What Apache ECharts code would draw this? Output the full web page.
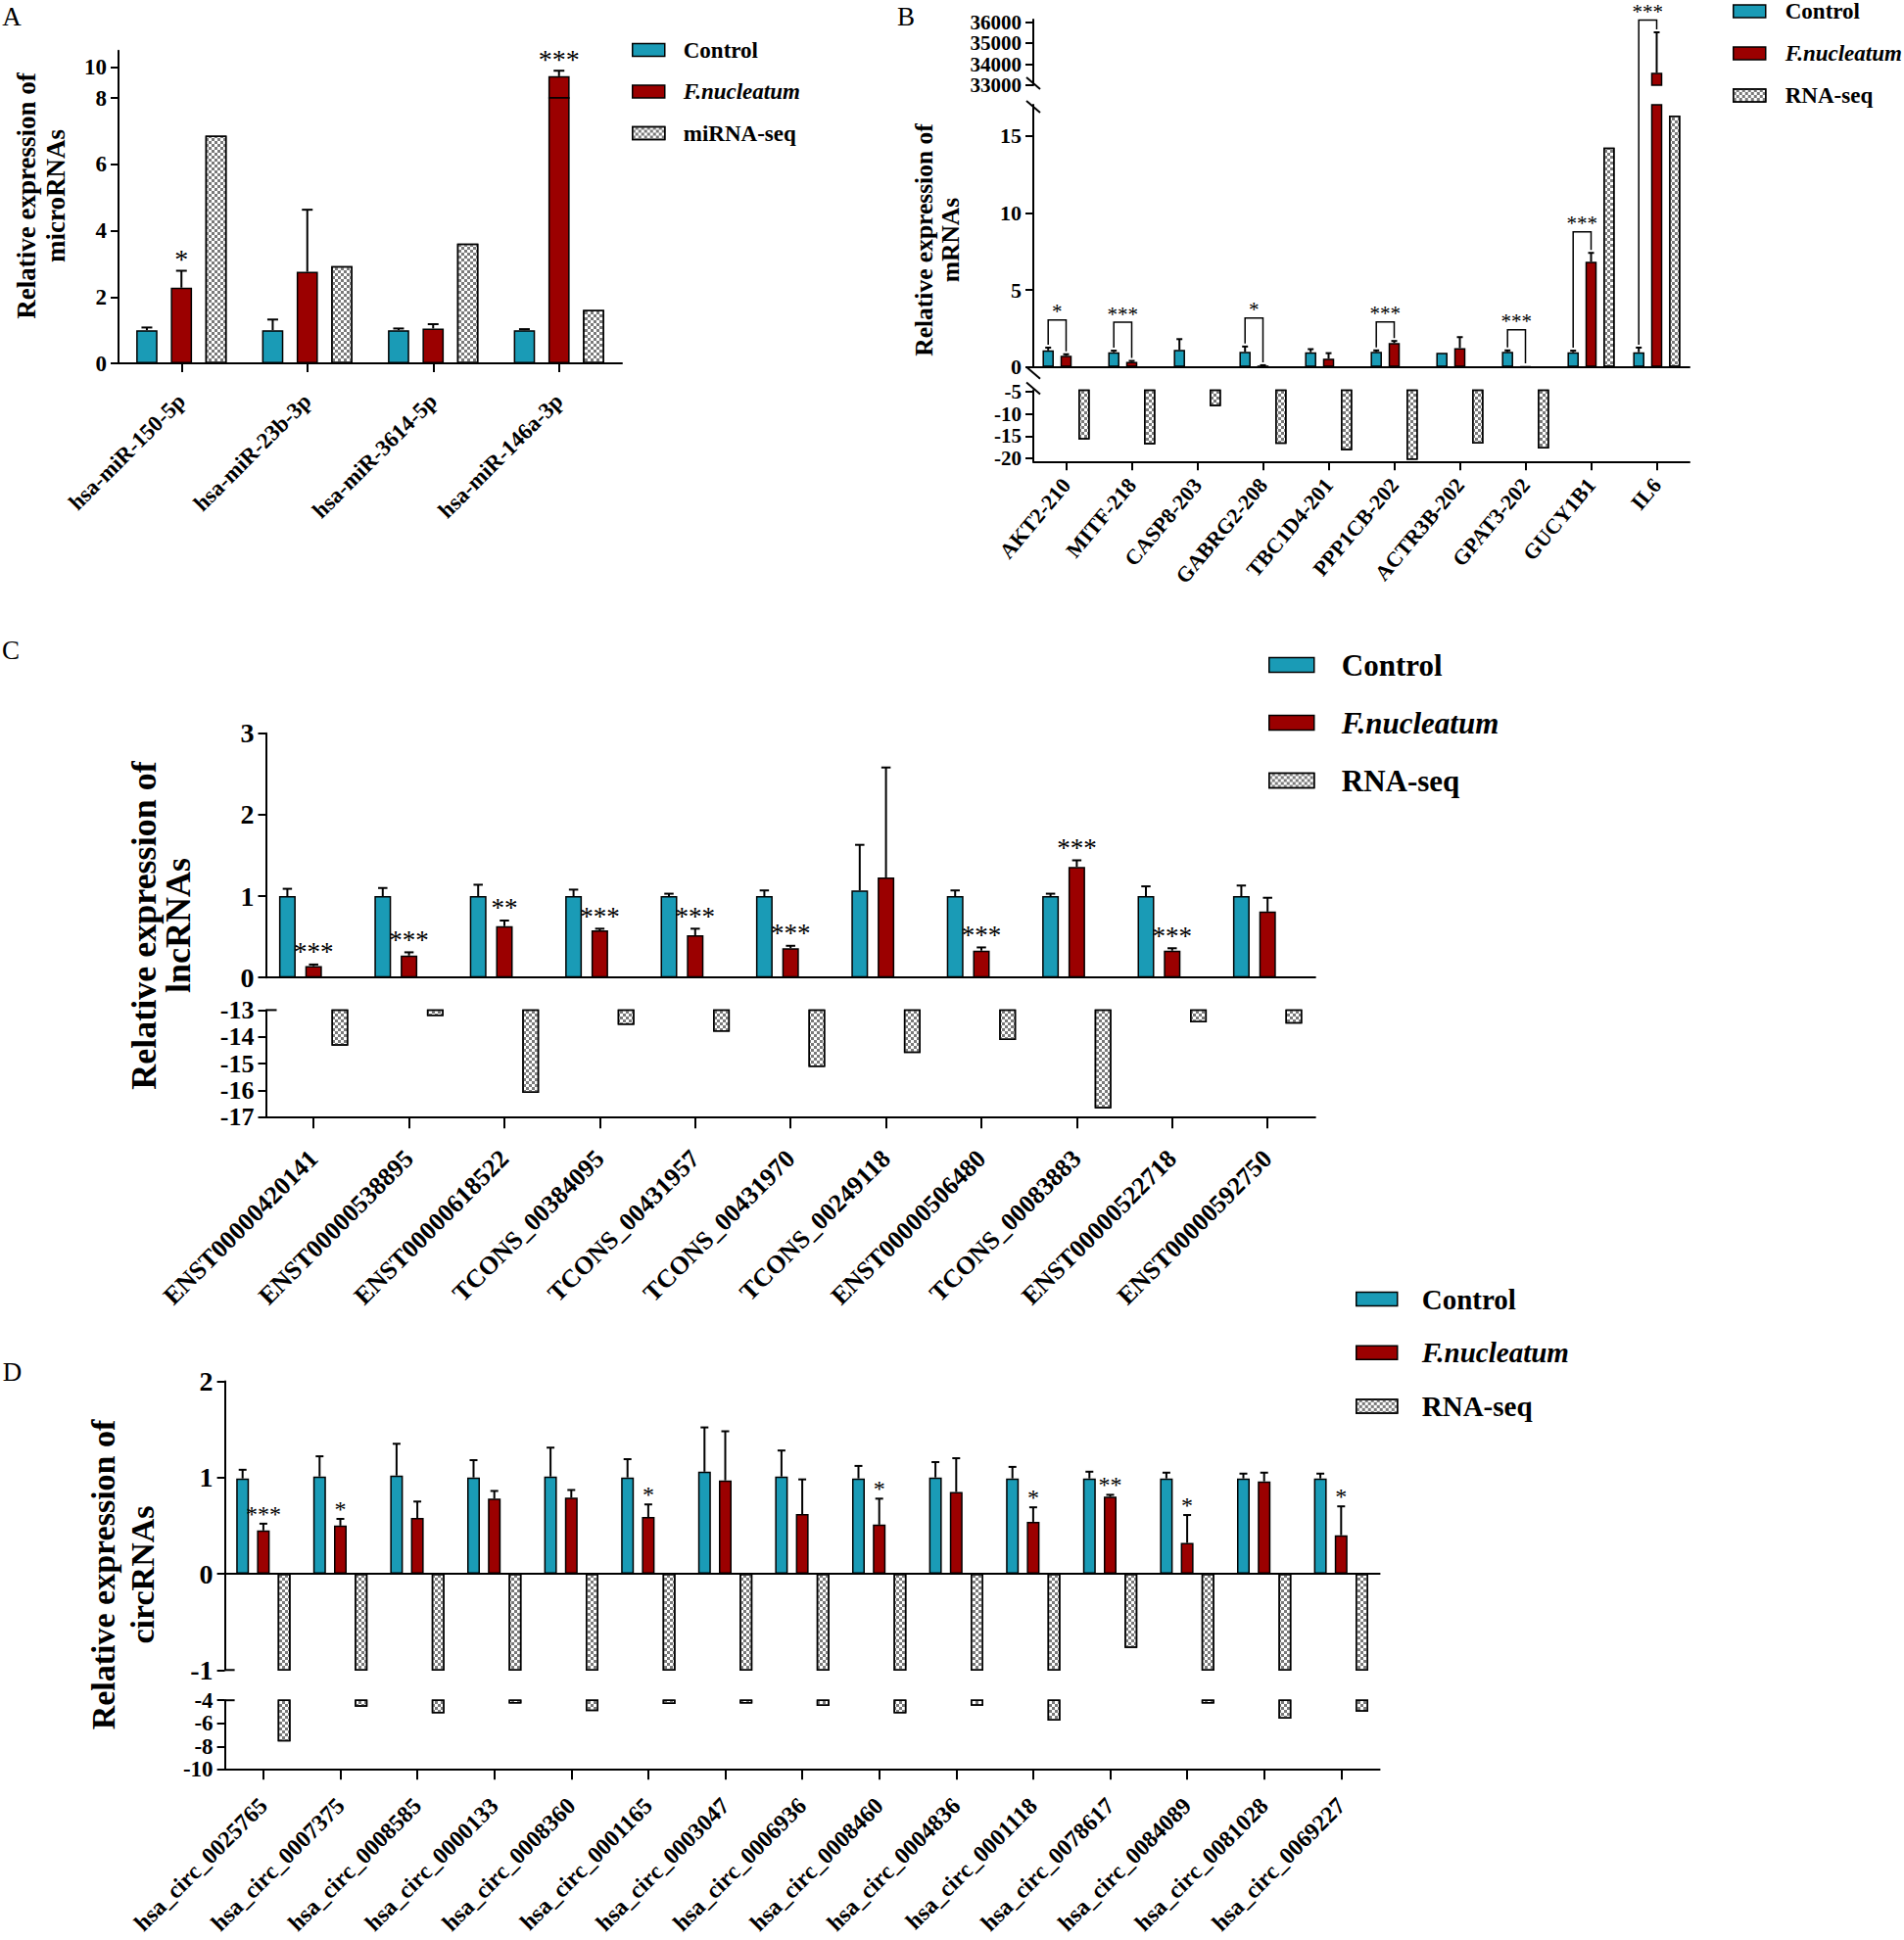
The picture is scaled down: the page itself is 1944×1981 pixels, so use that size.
<!DOCTYPE html>
<html>
<head>
<meta charset="utf-8">
<title>Relative expression of RNAs</title>
<script src="https://cdn.jsdelivr.net/npm/echarts@6.0.0/dist/echarts.min.js"></script>
<style>
html,body{margin:0;padding:0;background:#fff;}
#chart{width:1944px;height:1981px;}
</style>
</head>
<body>
<div id="chart"></div>
<script>
// ================= DATA =================
// Panel A (microRNAs)
const catsA = ['hsa-miR-150-5p', 'hsa-miR-23b-3p', 'hsa-miR-3614-5p', 'hsa-miR-146a-3p'];
const ctrlA = [1.0, 1.0, 1.0, 1.0];
const ctrlUpA = [1.08, 1.32, 1.05, 1.03];
const fnA = [2.28, 2.76, 1.05, 9.41];
const fnUpA = [2.79, 4.63, 1.18, 9.77];
const seqA = [6.86, 2.93, 3.61, 1.61];
const starsA = ['*', '', '', '***'];
const yTicksA = [0, 2, 4, 6, 8, 10];

// Panel B (mRNAs)
const catsB = ['AKT2-210', 'MITF-218', 'CASP8-203', 'GABRG2-208', 'TBC1D4-201', 'PPP1CB-202', 'ACTR3B-202', 'GPAT3-202', 'GUCY1B1', 'IL6'];
const ctrlB = [1.08, 0.96, 1.11, 0.98, 0.96, 0.98, 0.93, 0.98, 0.96, 0.96];
const ctrlUpB = [1.26, 1.06, 1.81, 1.33, 1.16, 1.08, null, 1.08, 1.06, 1.26];
const fnB = [0.73, 0.33, 0.02, 0.10, 0.55, 1.56, 1.23, 0.05, 6.83, 33590];
const fnUpB = [0.83, 0.40, null, 0.12, 0.90, 1.69, 1.94, null, 7.40, 35520];
const seqB = [-15.8, -16.9, -8.2, -16.8, -18.2, -20.4, -16.7, -17.8, 14.23, 16.3];
const starsB = ['*', '***', '', '*', '', '***', '', '***', '***', '***'];
const bracketB = [3.05, 2.90, null, 3.17, null, 2.92, null, 2.42, 8.77, 36100];
const yTicksB = [33000, 34000, 35000, 36000, 0, 5, 10, 15, -5, -10, -15, -20];

// Panel C (lncRNAs)
const catsC = ['ENST00000420141', 'ENST00000538895', 'ENST00000618522', 'TCONS_00384095', 'TCONS_00431957', 'TCONS_00431970', 'TCONS_00249118', 'ENST00000506480', 'TCONS_00083883', 'ENST00000522718', 'ENST00000592750'];
const ctrlC = [1.0, 1.0, 1.0, 1.0, 1.0, 1.0, 1.07, 1.0, 1.0, 1.0, 1.0];
const ctrlUpC = [1.09, 1.10, 1.14, 1.08, 1.03, 1.07, 1.63, 1.07, 1.03, 1.12, 1.13];
const fnC = [0.14, 0.27, 0.63, 0.58, 0.52, 0.36, 1.23, 0.33, 1.36, 0.33, 0.81];
const fnUpC = [0.16, 0.31, 0.70, 0.60, 0.60, 0.39, 2.58, 0.37, 1.44, 0.36, 0.98];
const seqC = [-14.33, -13.22, -16.09, -13.55, -13.81, -15.12, -14.60, -14.12, -16.67, -13.46, -13.51];
const starsC = ['***', '***', '**', '***', '***', '***', '', '***', '***', '***', ''];
const yTicksC = [3, 2, 1, 0, -13, -14, -15, -16, -17];

// Panel D (circRNAs)
const catsD = ['hsa_circ_0025765', 'hsa_circ_0007375', 'hsa_circ_0008585', 'hsa_circ_0000133', 'hsa_circ_0008360', 'hsa_circ_0001165', 'hsa_circ_0003047', 'hsa_circ_0006936', 'hsa_circ_0008460', 'hsa_circ_0004836', 'hsa_circ_0001118', 'hsa_circ_0078617', 'hsa_circ_0084089', 'hsa_circ_0081028', 'hsa_circ_0069227'];
const ctrlD = [0.99, 1.01, 1.02, 1.00, 1.01, 1.00, 1.06, 1.01, 0.99, 1.00, 0.99, 0.99, 0.99, 0.99, 0.99];
const ctrlUpD = [1.08, 1.22, 1.35, 1.18, 1.31, 1.19, 1.52, 1.28, 1.12, 1.16, 1.11, 1.06, 1.05, 1.04, 1.04];
const fnD = [0.45, 0.50, 0.58, 0.78, 0.79, 0.59, 0.97, 0.62, 0.51, 0.85, 0.54, 0.80, 0.32, 0.96, 0.40];
const fnUpD = [0.52, 0.57, 0.75, 0.86, 0.87, 0.72, 1.48, 0.98, 0.78, 1.20, 0.69, 0.82, 0.61, 1.05, 0.70];
const seqD = [-7.58, -4.56, -5.12, -4.28, -4.93, -4.33, -4.28, -4.50, -5.12, -4.47, -5.76, -0.77, -4.28, -5.60, -4.98];
const starsD = ['***', '*', '', '', '', '*', '', '', '*', '', '*', '**', '*', '', '*'];
const yTicksD = [2, 1, 0, -1, -4, -6, -8, -10];

// Text
const legendA = ['Control', 'F.nucleatum', 'miRNA-seq'];
const legendRNA = ['Control', 'F.nucleatum', 'RNA-seq'];
const titleA = ['Relative expression of', 'microRNAs'];
const titleB = ['Relative expression of', 'mRNAs'];
const titleC = ['Relative expression of', 'lncRNAs'];
const titleD = ['Relative expression of', 'circRNAs'];

// ================= STYLE / LAYOUT =================
const FONT = '"Liberation Serif", "Times New Roman", Times, serif';
const TEAL = '#1A9BB6';
const RED = '#9B0000';
const CHECKER = {symbol: 'rect', symbolSize: 1, color: '#7a7a7a', dashArrayX: [[3, 3], [0, 3, 3, 0]], dashArrayY: [3, 0], rotation: 0};

const panels = [
  {letter: 'A', cats: catsA, ctrl: ctrlA, ctrlUp: ctrlUpA, fn: fnA, fnUp: fnUpA, seq: seqA, stars: starsA, ticks: yTicksA,
   seqName: 'miRNA-seq', legendNames: legendA, title: titleA,
   L: {left: 121, width: 514,
       segs: [{top: 51.8, h: 48.2, min: 8, max: 11.07}, {top: 100, h: 271, min: 0, max: 8}],
       barW: 21.7, gap: 13.6, cap: 11, xTick: 9, catFont: 23, catRot: 45, catMargin: 35, tickFont: 23, starFont: 28, starGap: 7,
       legend: {left: 645, top: 38, iw: 33, ih: 13, font: 23, lh: 26, gap: 16.5, pad: 14},
       title: {x: 42, y: 200, font: 27, lh: 30}, letterPos: [12, 17]}},
  {letter: 'B', cats: catsB, ctrl: ctrlB, ctrlUp: ctrlUpB, fn: fnB, fnUp: fnUpB, seq: seqB, stars: starsB, ticks: yTicksB,
   brackets: bracketB, seqName: 'RNA-seq', legendNames: legendRNA, title: titleB,
   L: {left: 1055, width: 670,
       segs: [{top: 20, h: 67, min: 33000, max: 36126, tf: 21, tlh: 20}, {top: 107, h: 267.8, min: 0, max: 17},
              {top: 398.6, h: 72.7, min: -20.78, max: -4.64, tf: 21, tlh: 21}],
       barW: 11.5, gap: 6.8, cap: 6, xTick: 9, catFont: 22, catRot: 50, catMargin: 20, tickFont: 22, starFont: 21, starGap: 5, legGap: 3,
       legend: {left: 1769, top: 0, iw: 33, ih: 13, font: 23, lh: 22, gap: 20, pad: 15},
       title: {x: 956.5, y: 245, font: 25.5, lh: 27}, letterPos: [925, 17]}},
  {letter: 'C', cats: catsC, ctrl: ctrlC, ctrlUp: ctrlUpC, fn: fnC, fnUp: fnUpC, seq: seqC, stars: starsC, ticks: yTicksC,
   seqName: 'RNA-seq', legendNames: legendRNA, title: titleC,
   L: {left: 271.5, width: 1071.4,
       segs: [{top: 748.8, h: 249.4, min: 0, max: 3}, {top: 1031.4, h: 109.4, min: -17, max: -13, tf: 26, tlh: 26}],
       barW: 17, gap: 9.8, cap: 9.5, xTick: 11.5, catFont: 26, catRot: 45, catMargin: 38, tickFont: 28, starFont: 27, starGap: 8,
       legend: {left: 1295, top: 662, iw: 46, ih: 15, font: 31, lh: 34, gap: 25, pad: 23},
       title: {x: 164, y: 945, font: 36, lh: 35}, letterPos: [11, 664]}},
  {letter: 'D', cats: catsD, ctrl: ctrlD, ctrlUp: ctrlUpD, fn: fnD, fnUp: fnUpD, seq: seqD, stars: starsD, ticks: yTicksD,
   seqName: 'RNA-seq', legendNames: legendRNA, title: titleD,
   L: {left: 229.6, width: 1179,
       segs: [{top: 1410.4, h: 294.9, min: -1, max: 2}, {top: 1736.2, h: 70.6, min: -10, max: -4, tf: 23, tlh: 22}],
       barW: 13, gap: 8.2, cap: 8, xTick: 10.5, catFont: 24, catRot: 45, catMargin: 33, tickFont: 28, starFont: 24, starGap: 6,
       legend: {left: 1384, top: 1310.5, iw: 42, ih: 14, font: 29, lh: 32, gap: 22.7, pad: 20},
       title: {x: 125, y: 1608, font: 34, lh: 40}, letterPos: [12.6, 1401]}}
];

const option = {animation: false, backgroundColor: '#ffffff', grid: [], xAxis: [], yAxis: [], series: [], legend: [], graphic: []};

function txtStyle(text, font, align, vAlign, extra) {
  return Object.assign({text: text, font: font, fill: '#000', align: align, verticalAlign: vAlign,
                        textAlign: align, textVerticalAlign: vAlign}, extra || {});
}

function errorBarRender(pitch, capW) {
  return function (params, api) {
    const i = api.value(0), v = api.value(1), u = api.value(2), k = api.value(3);
    const pb = api.coord([i, v]);
    const pu = api.coord([i, u]);
    const x = pb[0] + (k - 1) * pitch;
    const st = {stroke: '#000', lineWidth: 2};
    return {type: 'group', children: [
      {type: 'line', shape: {x1: x, y1: pb[1], x2: x, y2: pu[1]}, style: st},
      {type: 'line', shape: {x1: x - capW / 2, y1: pu[1], x2: x + capW / 2, y2: pu[1]}, style: st}
    ]};
  };
}

function starText(text, x, y, L) {
  return {type: 'text', x: x, y: y - L.starGap - L.starFont * 0.17,
          style: txtStyle(text, L.starFont + 'px ' + FONT, 'center', 'middle', {lineHeight: Math.round(L.starFont * 0.6)})};
}

function starRender(texts, L) {
  return function (params, api) {
    const c = api.coord([api.value(0), api.value(1)]);
    return starText(texts[params.dataIndex], c[0], c[1], L);
  };
}

function bracketRender(p, s, isTopSeg, nextGap, pitch) {
  const L = p.L;
  return function (params, api) {
    const i = api.value(0);
    const b = p.brackets[i];
    const cTop = p.ctrlUp[i] != null ? p.ctrlUp[i] : p.ctrl[i];
    const fTop = p.fnUp[i] != null ? p.fnUp[i] : p.fn[i];
    const inS = v => v >= s.min && v <= s.max;
    const bIn = b >= s.min && (b <= s.max || isTopSeg);
    const yOf = v => api.coord([i, v])[1];
    const xF = api.coord([i, s.min])[0];
    const xC = xF - pitch;
    const yBottom = yOf(s.min) + nextGap;
    const yTop = yOf(s.max);
    const target = t => inS(t) ? yOf(t) - L.legGap : yBottom;
    const st = {stroke: '#000', lineWidth: 1.5, fill: null};
    const children = [];
    if (bIn) {
      const yb = yOf(b);
      children.push({type: 'polyline', shape: {points: [[xC, target(cTop)], [xC, yb], [xF, yb], [xF, target(fTop)]]}, style: st});
      children.push(starText(p.stars[i], (xC + xF) / 2, yb, L));
    } else if (b > s.max) {
      if (inS(cTop)) children.push({type: 'line', shape: {x1: xC, y1: yTop, x2: xC, y2: yOf(cTop) - L.legGap}, style: st});
      if (inS(fTop)) children.push({type: 'line', shape: {x1: xF, y1: yTop, x2: xF, y2: yOf(fTop) - L.legGap}, style: st});
    }
    return {type: 'group', children: children};
  };
}

function buildPanel(p) {
  const L = p.L;
  const pitch = L.barW + L.gap;
  const segTicks = L.segs.map(() => []);
  p.ticks.forEach(t => {
    const si = L.segs.findIndex(s => t >= s.min - 1e-9 && t <= s.max + 1e-9);
    if (si >= 0) segTicks[si].push(t);
  });
  L.segs.forEach((s, si) => {
    const gi = option.grid.length;
    const isBottom = si === L.segs.length - 1;
    const hasZero = s.min <= 0 && s.max >= 0;
    const nextGap = si < L.segs.length - 1 ? L.segs[si + 1].top - (s.top + s.h) : 0;
    const tf = s.tf || L.tickFont;
    option.grid.push({left: L.left, top: s.top, width: L.width, height: s.h, containLabel: false, outerBoundsMode: 'none'});
    option.xAxis.push({
      type: 'category', gridIndex: gi, data: p.cats, boundaryGap: true,
      axisLine: {show: isBottom || hasZero, onZero: !isBottom, lineStyle: {color: '#000', width: 2}},
      axisTick: {show: isBottom, alignWithLabel: true, length: L.xTick, lineStyle: {color: '#000', width: 2}},
      axisLabel: {show: isBottom, interval: 0, rotate: L.catRot, margin: L.catMargin, color: '#000',
                  fontFamily: FONT, fontWeight: 'bold', fontSize: L.catFont},
      splitLine: {show: false}
    });
    option.yAxis.push({
      type: 'value', gridIndex: gi, min: s.min, max: s.max,
      axisLine: {show: true, onZero: false, lineStyle: {color: '#000', width: 2}},
      axisTick: {show: true, length: 8, customValues: segTicks[si], lineStyle: {color: '#000', width: 2}},
      axisLabel: {show: true, customValues: segTicks[si], showMinLabel: true, showMaxLabel: true, margin: 12, color: '#000',
                  fontFamily: FONT, fontWeight: 'bold', fontSize: tf, lineHeight: s.tlh || tf,
                  formatter: v => String(v)},
      splitLine: {show: false}
    });
    const reach = v => (v != null && Math.min(0, v) < s.max && Math.max(0, v) > s.min) ? v : '-';
    const base = {type: 'bar', xAxisIndex: gi, yAxisIndex: gi, barWidth: L.barW,
                  barGap: (L.gap / L.barW * 100).toFixed(1) + '%', clip: true, silent: true, z: 2};
    option.series.push(Object.assign({}, base, {name: 'Control', data: p.ctrl.map(reach),
      itemStyle: {color: TEAL, borderColor: '#000', borderWidth: 1.5}}));
    option.series.push(Object.assign({}, base, {name: 'F.nucleatum', data: p.fn.map(reach),
      itemStyle: {color: RED, borderColor: '#000', borderWidth: 1.5}}));
    option.series.push(Object.assign({}, base, {name: p.seqName, data: p.seq.map(reach),
      itemStyle: {color: '#ffffff', borderColor: '#000', borderWidth: 1.5, decal: CHECKER}}));

    // error bars
    const eb = [];
    [[p.ctrl, p.ctrlUp, 0], [p.fn, p.fnUp, 1]].forEach(([vals, ups, k]) => {
      vals.forEach((v, i) => {
        const u = ups[i];
        if (u != null && v >= s.min && v <= s.max) eb.push([i, v, Math.min(u, s.max), k]);
      });
    });
    option.series.push({type: 'custom', xAxisIndex: gi, yAxisIndex: gi, data: eb, silent: true, z: 3,
                        renderItem: errorBarRender(pitch, L.cap)});

    if (p.brackets) {
      const bd = [];
      p.brackets.forEach((b, i) => { if (b != null) bd.push([i, b]); });
      option.series.push({type: 'custom', xAxisIndex: gi, yAxisIndex: gi, data: bd, silent: true, z: 4,
                          renderItem: bracketRender(p, s, si === 0, nextGap, pitch)});
    } else {
      const sd = [], st = [];
      p.stars.forEach((t, i) => {
        if (!t) return;
        const top = p.fnUp[i] != null ? p.fnUp[i] : p.fn[i];
        if (top >= s.min && top <= s.max) { sd.push([i, top]); st.push(t); }
      });
      option.series.push({type: 'custom', xAxisIndex: gi, yAxisIndex: gi, data: sd, silent: true, z: 4,
                          renderItem: starRender(st, L)});
    }
  });

  // legend
  const lg = L.legend;
  const richBase = {fontFamily: FONT, fontWeight: 'bold', fontSize: lg.font, lineHeight: lg.lh, color: '#000', padding: [0, 0, 0, lg.pad]};
  option.legend.push({
    left: lg.left, top: lg.top, orient: 'vertical', padding: 0, itemWidth: lg.iw, itemHeight: lg.ih, itemGap: lg.gap,
    selectedMode: false, icon: 'rect', data: p.legendNames,
    itemStyle: {borderColor: '#000', borderWidth: 1.5},
    formatter: n => n === 'F.nucleatum' ? '{i|' + n + '}' : '{n|' + n + '}',
    textStyle: {fontFamily: FONT, fontWeight: 'bold', fontSize: lg.font, lineHeight: lg.lh, color: '#000',
                rich: {n: richBase, i: Object.assign({}, richBase, {fontStyle: 'italic'})}}
  });

  // y-axis title and panel letter
  option.graphic.push({type: 'text', x: L.title.x, y: L.title.y, rotation: Math.PI / 2, silent: true,
    style: txtStyle(p.title.join('\n'), 'bold ' + L.title.font + 'px ' + FONT, 'center', 'middle', {lineHeight: L.title.lh})});
  option.graphic.push({type: 'text', x: L.letterPos[0], y: L.letterPos[1], silent: true,
    style: txtStyle(p.letter, '27px ' + FONT, 'center', 'middle')});
}

panels.forEach(buildPanel);

// axis break marks (decorations tied to the layout)
(function () {
  const B = panels[1].L, ax = B.left;
  const ys = [B.segs[0].top + B.segs[0].h - 2, B.segs[1].top + 2, B.segs[1].top + B.segs[1].h + 6, B.segs[2].top - 2];
  ys.forEach(y => option.graphic.push({type: 'line', silent: true,
    shape: {x1: ax - 7, y1: y - 6, x2: ax + 7, y2: y + 6}, style: {stroke: '#000', lineWidth: 2}}));
  const C = panels[2].L;
  option.graphic.push({type: 'line', silent: true, shape: {x1: C.left, y1: C.segs[1].top, x2: C.left + 11, y2: C.segs[1].top}, style: {stroke: '#000', lineWidth: 2}});
  const D = panels[3].L;
  [D.segs[0].top + D.segs[0].h, D.segs[1].top].forEach(y => option.graphic.push({type: 'line', silent: true,
    shape: {x1: D.left, y1: y, x2: D.left + 10, y2: y}, style: {stroke: '#000', lineWidth: 2}}));
})();

const chart = echarts.init(document.getElementById('chart'), null, {renderer: 'svg', width: 1944, height: 1981});
chart.setOption(option);
</script>
</body>
</html>
